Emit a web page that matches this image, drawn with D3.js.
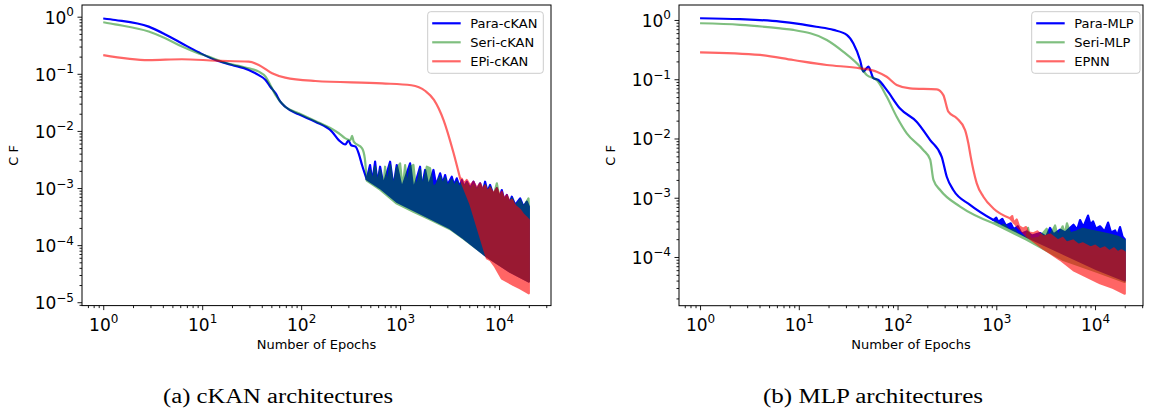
<!DOCTYPE html>
<html>
<head>
<meta charset="utf-8">
<script src="https://cdn.jsdelivr.net/npm/d3@7"></script>
<style>
  body { margin: 0; background: #fff; }
  svg { display: block; font-family: "DejaVu Sans", sans-serif; }
</style>
</head>
<body>
<svg id="chart"></svg>
<script>
// ---------------------------------------------------------------
// Data: [epoch, CF]
// "trend" = smooth part of the curve, "low"/"high" = envelope of the
// fast oscillation the loss shows late in training.
// ---------------------------------------------------------------
const ckanLabels = ['Para-cKAN', 'Seri-cKAN', 'EPi-cKAN'];
const mlpLabels = ['Para-MLP', 'Seri-MLP', 'EPNN'];
const captions = ['(a) cKAN architectures', '(b) MLP architectures'];
const xDecades = [0, 1, 2, 3, 4];
const ckanYDecades = [0, -1, -2, -3, -4, -5];
const mlpYDecades = [0, -1, -2, -3, -4];

// --- (a) cKAN ---
const paraCkanTrend = [[1,0.93],[1.32,0.875],[2.88,0.67],[4.24,0.49],[6.25,0.34],[9.2,0.238],[13.6,0.174],[20,0.143],[29.5,0.117],[37.3,0.095],[43.7,0.078],[48.8,0.0594],[55,0.0457],[61.6,0.0325],[69,0.0265],[94.5,0.0195],[139,0.0145],[205,0.0097],[240,0.0069],[280,0.0058],[300,0.0068],[320,0.0056],[355,0.0053],[382,0.004],[413,0.0025],[460,0.00142]];
const paraCkanLow = [[460,1.42e-3],[628,1.0e-3],[925,5.75e-4],[1364,4.1e-4],[2010,2.95e-4],[3200,1.97e-4],[4365,1.32e-4],[7530,6.3e-5],[12950,3.4e-5],[20000,2.3e-5]];
const paraCkanHigh = [[460,1.42e-3],[497,2.53e-3],[525,1.29e-3],[559,2.89e-3],[590,1.21e-3],[628,2.36e-3],[678,1.13e-3],[792,2.89e-3],[857,1.05e-3],[925,2.53e-3],[1040,9.9e-4],[1262,2.7e-3],[1364,9.2e-4],[1592,2.36e-3],[1656,9.9e-4],[1790,2.07e-3],[1934,1.05e-3],[2173,2.07e-3],[2312,1.13e-3],[2538,1.81e-3],[2700,1.21e-3],[2851,1.69e-3],[3011,1.13e-3],[3329,1.58e-3],[3514,1.13e-3],[3739,1.48e-3],[3979,1.05e-3],[4204,1.38e-3],[4440,1.05e-3],[4725,1.29e-3],[5105,9.9e-4],[5512,1.29e-3],[5955,9.2e-4],[6436,1.21e-3],[6850,8.6e-4],[7230,1.29e-3],[7635,8.6e-4],[8125,1.13e-3],[8785,7.54e-4],[9500,9.9e-4],[10100,6.59e-4],[10660,9.2e-4],[11260,6.16e-4],[11990,7.54e-4],[12750,5.39e-4],[13460,7.05e-4],[14550,5.04e-4],[16340,6.59e-4],[17660,4.71e-4],[19090,5.76e-4],[20000,4.71e-4]];

const seriCkanTrend = [[1,0.8],[1.32,0.735],[2.88,0.55],[4.24,0.42],[6.25,0.3],[9.2,0.228],[11.6,0.2],[15.8,0.163],[29.5,0.125],[37.3,0.109],[43.7,0.089],[48.8,0.0637],[55,0.0426],[69,0.0265],[94.5,0.0203],[139,0.0149],[205,0.0108],[240,0.0091],[280,0.0074],[315,0.0069],[327,0.0082],[340,0.0065],[413,0.00495],[440,0.0033],[460,0.00138]];
const seriCkanLow = [[460,1.35e-3],[628,9.4e-4],[925,5.35e-4],[1364,3.85e-4],[2010,2.8e-4],[3200,1.9e-4],[4365,1.3e-4],[7530,6.3e-5],[12950,3.4e-5],[20000,2.3e-5]];
const seriCkanHigh = [[460,1.38e-3],[497,2.07e-3],[525,1.21e-3],[559,2.36e-3],[590,1.13e-3],[628,2.07e-3],[678,1.05e-3],[705,2.36e-3],[745,1.05e-3],[792,2.53e-3],[857,9.9e-4],[925,2.21e-3],[1000,2.7e-3],[1064,9.9e-4],[1124,2.53e-3],[1186,9.9e-4],[1262,2.36e-3],[1364,2.53e-3],[1452,9.2e-4],[1592,2.07e-3],[1695,9.9e-4],[1862,2.36e-3],[2010,2.21e-3],[2140,1.05e-3],[2312,1.13e-3],[2538,1.58e-3],[2700,1.13e-3],[2851,1.48e-3],[3011,1.05e-3],[3329,1.38e-3],[3514,1.05e-3],[3739,1.29e-3],[3979,9.9e-4],[4204,1.21e-3],[4440,9.9e-4],[4725,1.21e-3],[5105,9.2e-4],[5512,1.13e-3],[5955,8.98e-4],[6436,1.13e-3],[6850,8.28e-4],[7230,1.13e-3],[7635,8.07e-4],[8125,1.05e-3],[8785,7.24e-4],[9500,1.21e-3],[10100,6.59e-4],[10660,8.07e-4],[11260,6.0e-4],[11990,7.05e-4],[12750,5.25e-4],[13460,6.59e-4],[14550,4.84e-4],[16340,6.16e-4],[17660,4.59e-4],[19850,6.59e-4],[20000,4.71e-4]];

const epiCkanTrend = [[1,0.213],[2.88,0.174],[6.25,0.18],[13.6,0.17],[29.5,0.163],[37.3,0.143],[50.8,0.102],[69,0.0855],[139,0.0748],[658,0.068],[1300,0.063],[1800,0.05],[2200,0.035],[2750,0.0155],[3470,0.0041],[4040,0.00148]];
const epiCkanLow = [[4040,1.48e-3],[5105,5.4e-4],[7530,5.9e-5],[8130,5.5e-5],[9120,4.2e-5],[10660,2.6e-5],[14000,2.0e-5],[16330,1.75e-5],[20000,1.43e-5]];
const epiCkanHigh = [[4040,1.48e-3],[4204,1.45e-3],[4440,1.2e-3],[4725,1.38e-3],[5105,1.1e-3],[5512,1.29e-3],[5955,1.0e-3],[6436,1.21e-3],[6850,9.5e-4],[7230,1.1e-3],[7635,8.6e-4],[8125,1.0e-3],[8785,8.0e-4],[9500,9.9e-4],[10100,7.5e-4],[10660,8.6e-4],[11260,6.5e-4],[11990,7.5e-4],[12750,5.8e-4],[13460,6.2e-4],[14550,4.9e-4],[16340,4.1e-4],[17660,3.4e-4],[19090,3.0e-4],[20000,2.75e-4]];

// --- (b) MLP ---
const paraMlpTrend = [[1,1.07],[2.54,1.03],[6.5,0.94],[10,0.86],[15,0.77],[22.4,0.68],[30.6,0.56],[35.7,0.4],[41.7,0.211],[45,0.134],[48,0.15],[50.7,0.163],[53.5,0.135],[56.9,0.104],[63.9,0.097],[77.6,0.066],[106,0.032],[156,0.0192],[214,0.0094],[280,0.0049],[315,0.00226],[367,0.00135],[542,7.6e-4],[935,4.2e-4]];
const paraMlpLow = [[935,4.2e-4],[2030,2.2e-4],[4430,1.2e-4],[10400,6.2e-5],[20000,4.0e-5]];
const paraMlpHigh = [[935,4.2e-4],[1000,4.6e-4],[1050,3.9e-4],[1150,4.4e-4],[1250,3.4e-4],[1400,3.7e-4],[1500,2.95e-4],[1650,3.3e-4],[1800,2.5e-4],[2030,2.7e-4],[2300,2.3e-4],[2770,2.54e-4],[3200,2.2e-4],[3500,3.1e-4],[3800,2.4e-4],[4430,2.9e-4],[5000,2.6e-4],[6040,3.5e-4],[6600,2.9e-4],[7050,4.2e-4],[7600,3.2e-4],[8490,5.0e-4],[9000,3.5e-4],[9550,4.0e-4],[10200,3.0e-4],[11240,3.3e-4],[12500,2.7e-4],[13550,3.8e-4],[14500,2.6e-4],[15950,2.8e-4],[16800,2.3e-4],[17900,3.2e-4],[19000,2.2e-4],[20000,2.0e-4]];

const seriMlpTrend = [[1,0.88],[2.54,0.83],[6.5,0.72],[8.8,0.68],[19.2,0.46],[28.3,0.29],[41.7,0.163],[48.7,0.118],[61.5,0.097],[77.6,0.051],[98,0.0233],[124,0.0122],[182,0.0064],[214,0.0044],[231,0.002],[270,0.00135],[430,7.1e-4],[935,3.7e-4]];
const seriMlpLow = [[935,3.7e-4],[2030,1.95e-4],[4780,8.9e-5],[10400,5.65e-5],[20000,3.8e-5]];
const seriMlpHigh = [[935,3.7e-4],[1000,3.9e-4],[1080,3.3e-4],[1200,3.5e-4],[1350,2.8e-4],[1500,2.9e-4],[1650,2.45e-4],[1800,2.3e-4],[2030,2.05e-4],[2100,3.1e-4],[2200,2.0e-4],[2700,2.1e-4],[3240,3.0e-4],[3400,2.1e-4],[3940,3.4e-4],[4200,2.2e-4],[4700,3.3e-4],[4900,2.4e-4],[5200,3.7e-4],[5600,2.5e-4],[6500,2.7e-4],[7500,3.0e-4],[9000,2.8e-4],[11000,2.6e-4],[14000,2.4e-4],[17000,2.2e-4],[20000,1.9e-4]];

const epnnTrend = [[1,0.285],[4.05,0.257],[8.8,0.211],[19.2,0.174],[41.7,0.153],[61.5,0.134],[77.6,0.11],[98,0.08],[134,0.0703],[250,0.0676],[291,0.054],[327,0.0283],[398,0.022],[483,0.0139],[521,0.0083],[551,0.0049],[586,0.00295],[634,0.00175],[740,0.00104],[935,6.6e-4],[1377,4.5e-4]];
const epnnLow = [[1377,4.5e-4],[1600,3.4e-4],[2000,2.3e-4],[2970,1.4e-4],[4430,9.0e-5],[6040,6.0e-5],[8240,4.65e-5],[11240,3.6e-5],[15300,3.0e-5],[20000,2.4e-5]];
const epnnHigh = [[1377,4.5e-4],[1450,4.9e-4],[1500,3.8e-4],[1610,4.3e-4],[1700,3.3e-4],[1865,3.0e-4],[2000,3.2e-4],[2100,2.6e-4],[2355,2.5e-4],[2600,2.7e-4],[3000,2.2e-4],[3500,2.4e-4],[4200,1.9e-4],[4700,2.1e-4],[5160,1.75e-4],[6000,1.9e-4],[6800,1.6e-4],[7550,1.7e-4],[9000,1.45e-4],[10000,1.55e-4],[11240,1.35e-4],[12500,1.45e-4],[14000,1.25e-4],[15500,1.4e-4],[17000,1.2e-4],[18500,1.3e-4],[20000,1.2e-4]];

// ---------------------------------------------------------------
// Styling
// ---------------------------------------------------------------
const width = 1151;
const height = 415;
const colors = ['#0000ff', '#008000', '#ff0000'];
const alphas = [1, 0.5, 0.6];
const lineWidth = 2.2;

const svg = d3.select('#chart')
  .attr('width', width)
  .attr('height', height)
  .attr('viewBox', [0, 0, width, height]);

svg.append('rect').attr('width', width).attr('height', height).attr('fill', '#fff');

const panels = [
  {
    left: 82, right: 551, top: 5, bottom: 305.6,
    xDomain: [0.61, 33500], yDomain: [8.73e-6, 1.603],
    yDecades: ckanYDecades, yLabelX: 13,
    labels: ckanLabels, legend: { x: 427.7, y: 11.7, w: 115.6, h: 61.6 },
    caption: captions[0], captionX: 278, captionW: 230,
    series: [
      { trend: paraCkanTrend, low: paraCkanLow, high: paraCkanHigh },
      { trend: seriCkanTrend, low: seriCkanLow, high: seriCkanHigh },
      { trend: epiCkanTrend, low: epiCkanLow, high: epiCkanHigh },
    ],
  },
  {
    left: 679, right: 1143, top: 5, bottom: 305.7,
    xDomain: [0.612, 30600], yDomain: [1.507e-5, 1.79],
    yDecades: mlpYDecades, yLabelX: 610,
    labels: mlpLabels, legend: { x: 1031.7, y: 11.7, w: 108.3, h: 61.6 },
    caption: captions[1], captionX: 873, captionW: 220,
    series: [
      { trend: paraMlpTrend, low: paraMlpLow, high: paraMlpHigh },
      { trend: seriMlpTrend, low: seriMlpLow, high: seriMlpHigh },
      { trend: epnnTrend, low: epnnLow, high: epnnHigh },
    ],
  },
];

const expText = (d) => {
  const e = Math.round(Math.log10(d));
  return e < 0 ? '\u2212' + Math.abs(e) : String(e);
};

function minorTicks(domain) {
  const out = [];
  const d0 = Math.floor(Math.log10(domain[0]));
  const d1 = Math.ceil(Math.log10(domain[1]));
  for (let d = d0; d <= d1; d++) {
    for (let k = 2; k <= 9; k++) {
      const v = k * Math.pow(10, d);
      if (v >= domain[0] && v <= domain[1]) out.push(v);
    }
  }
  return out;
}

function styleTicks(g) {
  g.select('.domain').remove();
  g.selectAll('.tick line').attr('stroke', '#000').attr('stroke-width', 0.9);
}

function powerLabels(sel) {
  sel.each(function (d) {
    const t = d3.select(this);
    t.append('tspan').text('10');
    t.append('tspan').attr('dy', -7.5).attr('font-size', 12).text(expText(d));
  });
}

panels.forEach((p) => {
  const x = d3.scaleLog().domain(p.xDomain).range([p.left, p.right]);
  const y = d3.scaleLog().domain(p.yDomain).range([p.bottom, p.top]);

  const clipId = 'clip-' + p.left;
  svg.append('clipPath').attr('id', clipId)
    .append('rect')
    .attr('x', p.left).attr('y', p.top)
    .attr('width', p.right - p.left).attr('height', p.bottom - p.top);

  const plot = svg.append('g').attr('clip-path', `url(#${clipId})`);
  const smooth = d3.line().x((d) => x(d[0])).y((d) => y(d[1])).curve(d3.curveMonotoneX);
  const line = d3.line().x((d) => x(d[0])).y((d) => y(d[1]));

  // series: smooth part + oscillation band, drawn in plotting order
  p.series.forEach((s, i) => {
    const g = plot.append('g').attr('opacity', alphas[i]);
    g.append('path')
      .attr('d', smooth(s.trend))
      .attr('fill', 'none')
      .attr('stroke', colors[i])
      .attr('stroke-width', lineWidth)
      .attr('stroke-linejoin', 'round');
    g.append('path')
      .attr('d', line(s.high.concat(s.low.slice().reverse())) + 'Z')
      .attr('fill', colors[i])
      .attr('stroke', colors[i])
      .attr('stroke-width', lineWidth)
      .attr('stroke-linejoin', 'round');
  });

  // x axis
  const decadesX = xDecades.map((d) => Math.pow(10, d));
  svg.append('g')
    .attr('transform', `translate(0,${p.bottom})`)
    .call(d3.axisBottom(x).tickValues(minorTicks(p.xDomain)).tickSize(2.5).tickFormat(() => ''))
    .call(styleTicks)
    .call((g) => g.selectAll('text').remove());

  svg.append('g')
    .attr('transform', `translate(0,${p.bottom})`)
    .call(d3.axisBottom(x).tickValues(decadesX).tickSize(4.5).tickFormat(() => ''))
    .call(styleTicks)
    .call((g) => g.selectAll('.tick text')
      .attr('y', 25.2).attr('dy', null)
      .attr('fill', '#000')
      .attr('font-size', 17)
      .attr('font-family', '"DejaVu Sans", sans-serif')
      .attr('text-anchor', 'middle')
      .call(powerLabels));

  // y axis
  const decadesY = p.yDecades.map((d) => Math.pow(10, d));
  svg.append('g')
    .attr('transform', `translate(${p.left},0)`)
    .call(d3.axisLeft(y).tickValues(minorTicks(p.yDomain)).tickSize(2.5).tickFormat(() => ''))
    .call(styleTicks)
    .call((g) => g.selectAll('text').remove());

  svg.append('g')
    .attr('transform', `translate(${p.left},0)`)
    .call(d3.axisLeft(y).tickValues(decadesY).tickSize(4.5).tickFormat(() => ''))
    .call(styleTicks)
    .call((g) => g.selectAll('.tick text')
      .attr('x', -8).attr('y', 6.5).attr('dy', null)
      .attr('fill', '#000')
      .attr('font-size', 17)
      .attr('font-family', '"DejaVu Sans", sans-serif')
      .attr('text-anchor', 'end')
      .call(powerLabels));

  // frame
  svg.append('rect')
    .attr('x', p.left).attr('y', p.top)
    .attr('width', p.right - p.left).attr('height', p.bottom - p.top)
    .attr('fill', 'none').attr('stroke', '#000').attr('stroke-width', 1);

  // axis labels
  svg.append('text')
    .attr('x', (p.left + p.right) / 2).attr('y', 349)
    .attr('text-anchor', 'middle').attr('font-size', 13)
    .text('Number of Epochs');

  svg.append('text')
    .attr('transform', `translate(${p.yLabelX},${(p.top + p.bottom) / 2}) rotate(-90)`)
    .attr('text-anchor', 'middle').attr('dy', '0.35em').attr('font-size', 13)
    .text('C F');

  // legend
  const L = p.legend;
  const lg = svg.append('g');
  lg.append('rect')
    .attr('x', L.x).attr('y', L.y).attr('width', L.w).attr('height', L.h)
    .attr('rx', 3).attr('fill', '#fff').attr('fill-opacity', 0.8)
    .attr('stroke', '#cccccc').attr('stroke-width', 1);
  p.labels.forEach((label, i) => {
    const cy = L.y + 11.6 + i * 19;
    lg.append('line')
      .attr('x1', L.x + 4.5).attr('x2', L.x + 33)
      .attr('y1', cy).attr('y2', cy)
      .attr('stroke', colors[i]).attr('stroke-opacity', alphas[i])
      .attr('stroke-width', lineWidth);
    lg.append('text')
      .attr('x', L.x + 42.5).attr('y', cy).attr('dy', '0.36em')
      .attr('font-size', 13).text(label);
  });

  // caption (LaTeX-style serif, stretched to the width of Computer Modern)
  svg.append('text')
    .attr('x', p.captionX).attr('y', 403)
    .attr('text-anchor', 'middle')
    .attr('font-family', '"Liberation Serif", "DejaVu Serif", serif')
    .attr('font-size', 20)
    .attr('textLength', p.captionW)
    .attr('lengthAdjust', 'spacingAndGlyphs')
    .text(p.caption);
});
</script>
</body>
</html>
